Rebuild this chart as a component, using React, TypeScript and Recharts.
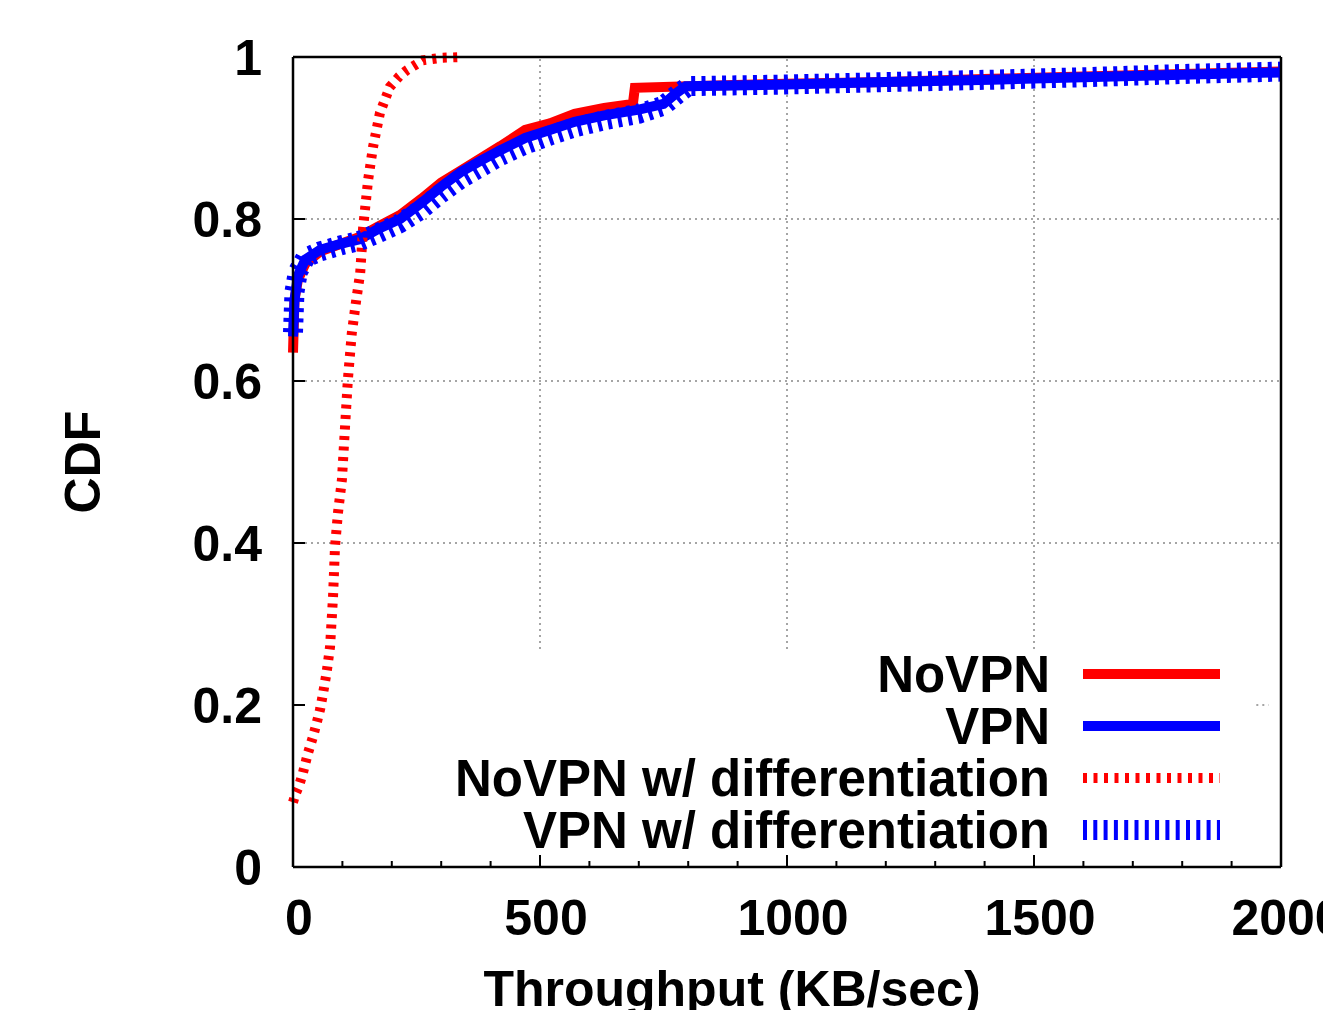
import React from 'react';
import { LineChart, Line, XAxis, YAxis, ReferenceLine, Legend } from 'recharts';

// NoVPN (solid red)
const noVpnX = [0, 3, 10, 25, 55, 100, 135, 170, 217, 260, 300, 340, 380, 420, 470, 520, 570, 630, 688, 692, 800, 1000, 1200, 1415, 1600, 1800, 2000];
const noVpnY = [0.635, 0.7, 0.725, 0.745, 0.76, 0.77, 0.778, 0.79, 0.805, 0.825, 0.845, 0.86, 0.875, 0.89, 0.91, 0.918, 0.93, 0.937, 0.942, 0.962, 0.964, 0.967, 0.969, 0.973, 0.976, 0.979, 0.982];

// VPN (solid blue)
const vpnX = [0, 3, 10, 25, 55, 100, 135, 170, 217, 260, 300, 340, 380, 420, 470, 520, 570, 630, 700, 750, 775, 795, 1000, 1200, 1415, 1600, 1800, 2000];
const vpnY = [0.655, 0.7, 0.73, 0.75, 0.762, 0.77, 0.775, 0.787, 0.8, 0.82, 0.84, 0.858, 0.872, 0.885, 0.9, 0.91, 0.92, 0.928, 0.935, 0.942, 0.955, 0.964, 0.966, 0.969, 0.972, 0.975, 0.978, 0.981];

// NoVPN w/ differentiation (dotted red)
const noVpnDiffX = [0, 5, 12, 20, 30, 40, 48, 55, 61, 68, 75, 81, 85, 91, 99, 105, 111, 119, 128, 136, 142, 152, 162, 176, 196, 215, 231, 263, 300, 345];
const noVpnDiffY = [0.08, 0.09, 0.1, 0.116, 0.14, 0.16, 0.178, 0.195, 0.215, 0.24, 0.272, 0.333, 0.395, 0.437, 0.478, 0.54, 0.601, 0.659, 0.7, 0.733, 0.79, 0.848, 0.889, 0.931, 0.963, 0.976, 0.984, 0.996, 0.999, 1.0];

// VPN w/ differentiation (dotted blue)
const vpnDiffX = [0, 3, 10, 25, 55, 100, 135, 170, 217, 260, 300, 340, 380, 420, 470, 520, 570, 630, 700, 750, 780, 800, 1000, 1200, 1415, 1600, 1800, 2000];
const vpnDiffY = [0.66, 0.71, 0.735, 0.752, 0.76, 0.768, 0.773, 0.782, 0.795, 0.812, 0.832, 0.85, 0.864, 0.878, 0.892, 0.903, 0.913, 0.922, 0.93, 0.94, 0.955, 0.964, 0.966, 0.969, 0.972, 0.975, 0.979, 0.982];

const xTicks = Array.from({ length: 21 }, (_, i) => i * 100);
const yTicks = [0, 0.2, 0.4, 0.6, 0.8, 1];

const zip = (xs: number[], ys: number[]) => xs.map((x, i) => ({ x, y: ys[i] }));

const series = [
  { name: 'NoVPN', data: zip(noVpnX, noVpnY), color: '#ff0000', width: 10, dash: undefined as string | undefined },
  { name: 'VPN', data: zip(vpnX, vpnY), color: '#0000ff', width: 10, dash: undefined as string | undefined },
  { name: 'NoVPN w/ differentiation', data: zip(noVpnDiffX, noVpnDiffY), color: '#ff0000', width: 10, dash: '4 6.5' },
  { name: 'VPN w/ differentiation', data: zip(vpnDiffX, vpnDiffY), color: '#0000ff', width: 20, dash: '4 6.3' },
];

const FONT = '"Liberation Sans", Arial, Helvetica, sans-serif';

// plot box edges, px
const LEFT = 293;
const RIGHT = 1281;
const TOP = 57;
const BOTTOM = 867;

const BottomTick = (props: any) => {
  const { x, payload } = props;
  const y = BOTTOM;
  const v = payload.value;
  const major = v % 500 === 0;
  return (
    <g>
      <line x1={x} x2={x} y1={y} y2={y - (major ? 12 : 6)} stroke="#000" strokeWidth={2} />
      {major && (
        <text x={x + 6} y={y + 68} textAnchor="middle" fontFamily={FONT} fontWeight="bold" fontSize={50} fill="#000">
          {v}
        </text>
      )}
    </g>
  );
};

const TopTick = (props: any) => {
  const { x, payload } = props;
  const y = TOP;
  const major = payload.value % 500 === 0;
  return <line x1={x} x2={x} y1={y} y2={y + (major ? 12 : 6)} stroke="#000" strokeWidth={2} />;
};

const LeftTick = (props: any) => {
  const { y, payload } = props;
  const x = LEFT;
  const v = payload.value;
  const label = v === 0 || v === 1 ? String(v) : v.toFixed(1);
  return (
    <g>
      <line x1={x} x2={x + 12} y1={y} y2={y} stroke="#000" strokeWidth={2} />
      <text x={x - 31} y={y + 18} textAnchor="end" fontFamily={FONT} fontWeight="bold" fontSize={50} fill="#000">
        {label}
      </text>
    </g>
  );
};

const RightTick = (props: any) => {
  const { y } = props;
  const x = RIGHT;
  return <line x1={x} x2={x - 12} y1={y} y2={y} stroke="#000" strokeWidth={2} />;
};

const LegendBox = () => (
  <svg width={1331} height={1018} style={{ position: 'absolute', left: 0, top: 0 }}>
    {series.map((s, i) => {
      const cy = 674 + i * 52;
      return (
        <g key={s.name}>
          <text x={1050} y={cy + 18} textAnchor="end" fontFamily={FONT} fontWeight="bold" fontSize={51} fill="#000">
            {s.name}
          </text>
          <line x1={1083} x2={1220} y1={cy} y2={cy} stroke={s.color} strokeWidth={s.width} strokeDasharray={s.dash} />
        </g>
      );
    })}
  </svg>
);

const gridStyle = { stroke: '#888', strokeWidth: 1.5, strokeDasharray: '2 4' };
const axisLineStyle = { stroke: '#000', strokeWidth: 2.5 };

export default function App() {
  return (
    <div style={{ margin: -8, width: 1331, height: 1018, background: '#fff', overflow: 'hidden', position: 'relative' }}>
      <LineChart width={1331} height={1018} margin={{ top: TOP - 1, right: 1331 - RIGHT - 1, bottom: 1018 - BOTTOM - 1, left: LEFT - 1 }}>
        <XAxis
          xAxisId={0}
          type="number"
          dataKey="x"
          domain={[0, 2000]}
          ticks={xTicks}
          interval={0}
          height={1}
          tickSize={0}
          tickMargin={0}
          tickLine={false}
          tick={BottomTick}
          axisLine={axisLineStyle}
        />
        <XAxis
          xAxisId="top"
          orientation="top"
          type="number"
          dataKey="x"
          domain={[0, 2000]}
          ticks={xTicks}
          interval={0}
          height={1}
          tickSize={0}
          tickMargin={0}
          tickLine={false}
          tick={TopTick}
          axisLine={axisLineStyle}
        />
        <YAxis
          yAxisId={0}
          type="number"
          domain={[0, 1]}
          ticks={yTicks}
          interval={0}
          width={1}
          tickSize={0}
          tickMargin={0}
          tickLine={false}
          tick={LeftTick}
          axisLine={axisLineStyle}
        />
        <YAxis
          yAxisId="right"
          orientation="right"
          type="number"
          domain={[0, 1]}
          ticks={yTicks}
          interval={0}
          width={1}
          tickSize={0}
          tickMargin={0}
          tickLine={false}
          tick={RightTick}
          axisLine={axisLineStyle}
        />

        {/* grid, cut off where the key box sits */}
        {[500, 1000, 1500].map((gx) => (
          <ReferenceLine key={'gx' + gx} segment={[{ x: gx, y: 0.269 }, { x: gx, y: 1 }]} {...gridStyle} />
        ))}
        {[0.4, 0.6, 0.8].map((gy) => (
          <ReferenceLine key={'gy' + gy} segment={[{ x: 0, y: gy }, { x: 2000, y: gy }]} {...gridStyle} />
        ))}
        <ReferenceLine segment={[{ x: 1950, y: 0.2 }, { x: 1975, y: 0.2 }]} {...gridStyle} />

        {series.map((s) => (
          <Line
            key={s.name}
            data={s.data}
            dataKey="y"
            name={s.name}
            type="linear"
            stroke={s.color}
            strokeWidth={s.width}
            strokeDasharray={s.dash}
            strokeLinecap="butt"
            dot={false}
            activeDot={false}
            isAnimationActive={false}
          />
        ))}

        <Legend
          layout="vertical"
          align="center"
          verticalAlign="middle"
          wrapperStyle={{ left: 0, top: 0, width: 1331, height: 1018, pointerEvents: 'none' }}
          content={() => <LegendBox />}
        />

        <text x={100} y={462} transform="rotate(-90 100 462)" textAnchor="middle" fontFamily={FONT} fontWeight="bold" fontSize={50} fill="#000">
          CDF
        </text>
        <text x={732} y={1006} textAnchor="middle" fontFamily={FONT} fontWeight="bold" fontSize={50} fill="#000">
          Throughput (KB/sec)
        </text>
      </LineChart>
    </div>
  );
}
